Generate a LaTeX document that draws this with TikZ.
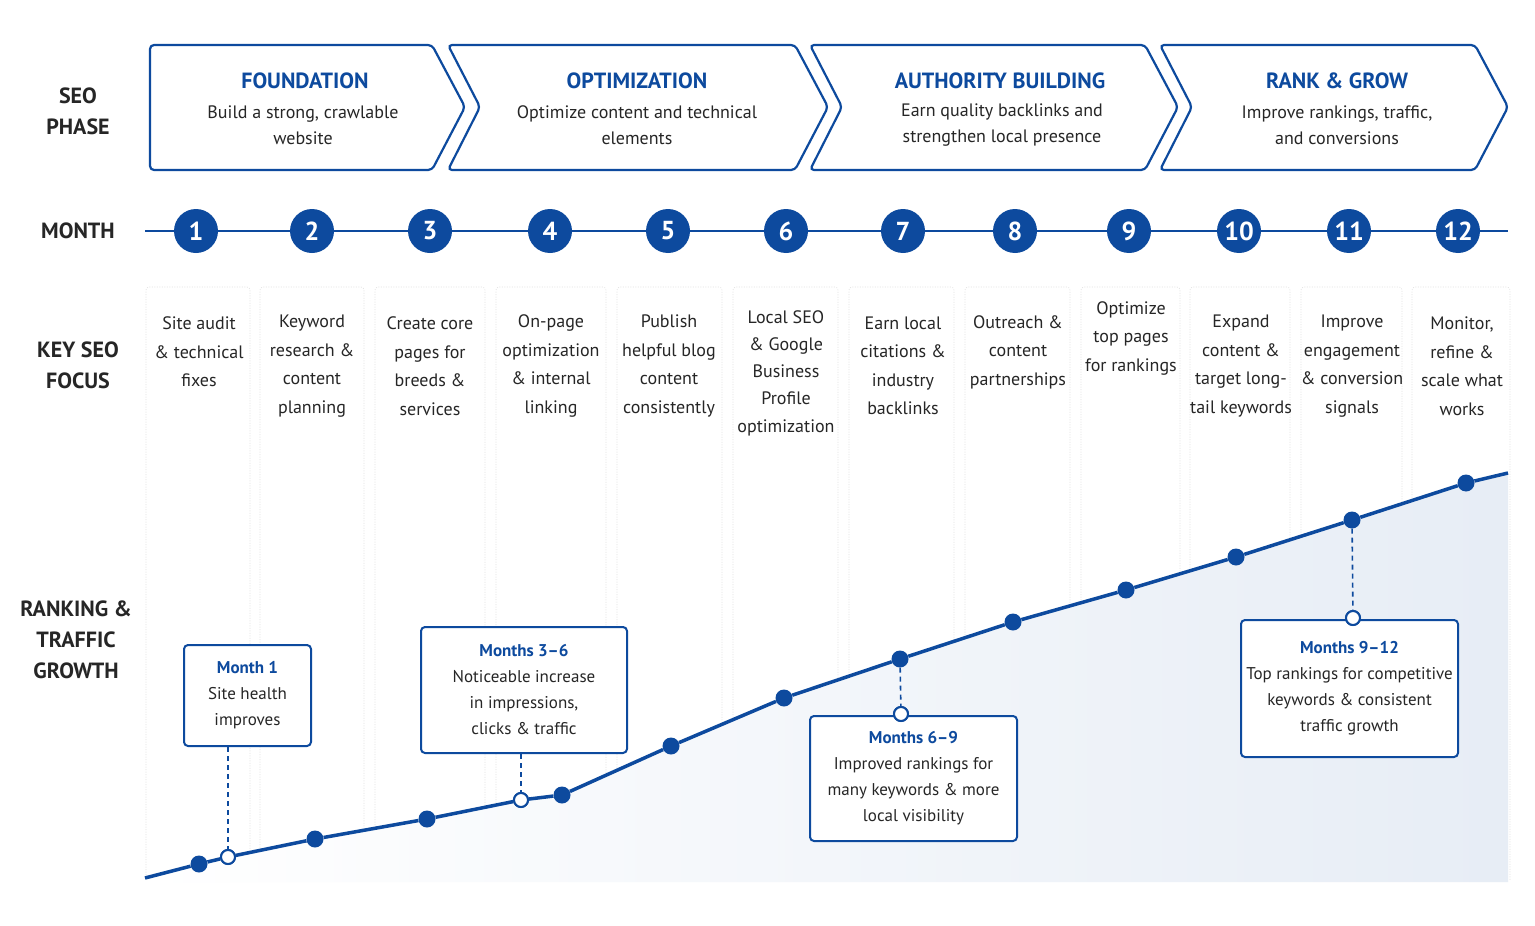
\documentclass[tikz,border=0pt]{standalone}
\usepackage{fontspec}
\setmainfont{PT Sans}
\begin{document}
\begin{tikzpicture}[x=1pt,y=-1pt,
  blu/.style={draw=seo,line width=2.2pt},
  ttl/.style={text=seo,font=\fontsize{22}{26}\selectfont\bfseries},
  body/.style={font=\fontsize{18}{26}\selectfont,align=center,text=black!85},
  fbody/.style={font=\fontsize{18}{28.5}\selectfont,align=center,text=black!85},
  lbl/.style={font=\fontsize{22}{31}\selectfont\bfseries,align=center,text=black!85},
  mon/.style={circle,fill=seo,minimum size=44pt,inner sep=0pt,text=white,font=\fontsize{26}{26}\selectfont\bfseries},
  col/.style={draw=black!12,dash pattern=on 1pt off 1.5pt,line width=0.6pt},
  dot/.style={circle,fill=seo,minimum size=17pt,inner sep=0pt},
  hol/.style={circle,fill=white,draw=seo,line width=2pt,minimum size=14pt,inner sep=0pt},
  callout/.style={draw=seo,line width=2pt,rounded corners=4pt,fill=white,align=center,font=\fontsize{17}{26}\selectfont,text=black!85},
  dsh/.style={draw=seo,line width=1.6pt,dash pattern=on 5pt off 4pt}]
\definecolor{seo}{HTML}{0D4A9E}
\useasboundingbox (0,0) rectangle (1535,926);
\fill[white] (0,0) rectangle (1535,926);
% chevrons
\draw[blu,rounded corners=4pt] (150,45) -- (432,45) -- (465,107) -- (432,170) -- (150,170) -- cycle;
\draw[blu,rounded corners=4pt] (448,45) -- (795,45) -- (828,107) -- (795,170) -- (448,170) -- (480,107) -- cycle;
\draw[blu,rounded corners=4pt] (810,45) -- (1145,45) -- (1178,107) -- (1145,170) -- (810,170) -- (842,107) -- cycle;
\draw[blu,rounded corners=4pt] (1160,45) -- (1475,45) -- (1508,107) -- (1475,170) -- (1160,170) -- (1192,107) -- cycle;
\node[ttl] (p1) at (305,81) {FOUNDATION};
\node[body] (p1b) at (303,125) {Build a strong, crawlable\\website};
\node[ttl] (p2) at (637,81) {OPTIMIZATION};
\node[body] (p2b) at (637,125) {Optimize content and technical\\elements};
\node[ttl] (p3) at (1000,81) {AUTHORITY BUILDING};
\node[body] (p3b) at (1002,125) {Earn quality backlinks and\\strengthen local presence};
\node[ttl] (p4) at (1337,81) {RANK \& GROW};
\node[body] (p4b) at (1337,125) {Improve rankings, traffic,\\and conversions};
% left labels
\node[lbl] (l1) at (78,111) {SEO\\PHASE};
\node[lbl] (l2) at (78,231) {MONTH};
\node[lbl] (l3) at (78,365) {KEY SEO\\FOCUS};
\node[lbl] (l4) at (76,640) {RANKING \&\\TRAFFIC\\GROWTH};
% columns
\foreach \a/\b in {146/250,260/364,375/485,496/606,617/722,733/838,849/954,965/1070,1081/1180,1190/1290,1301/1402,1412/1510}
  \draw[col,rounded corners=3pt] (\a,880) -- (\a,287) -- (\b,287) -- (\b,880);
% shading under curve
\shade[left color=white,right color=seo!10] (145,878) -- (199,864) -- (228,857) -- (315,839) -- (427,819) -- (521,800) -- (562,795) -- (671,746) -- (784,698) -- (900,659) -- (1013,622) -- (1126,590) -- (1236,557) -- (1352,520) -- (1466,483) -- (1508,473) -- (1508,882) -- (145,882) -- cycle;
% month line
\coordinate (ms) at (145,231); \coordinate (me) at (1508,231);
\draw[seo,line width=2pt] (ms) -- (me);
\foreach \n/\x in {1/196,2/312,3/430,4/550,5/668,6/786,7/903,8/1015,9/1129,10/1239,11/1349,12/1458}
  \node[mon] (m\n) at (\x,231) {\n};
% focus texts
\node[fbody] (f1) at (199,352) {Site audit\\\& technical\\fixes};
\node[fbody] (f2) at (312,366) {Keyword\\research \&\\content\\planning};
\node[fbody] (f3) at (430,366) {Create core\\pages for\\breeds \&\\services};
\node[fbody] (f4) at (551,366) {On-page\\optimization\\\& internal\\linking};
\node[fbody] (f5) at (669,366) {Publish\\helpful blog\\content\\consistently};
\node[fbody,font=\fontsize{18}{27.3}\selectfont] (f6) at (786,373) {Local SEO\\\& Google\\Business\\Profile\\optimization};
\node[fbody] (f7) at (903,366) {Earn local\\citations \&\\industry\\backlinks};
\node[fbody] (f8) at (1018,352) {Outreach \&\\content\\partnerships};
\node[fbody] (f9) at (1131,338) {Optimize\\top pages\\for rankings};
\node[fbody] (f10) at (1241,366) {Expand\\content \&\\target long-\\tail keywords};
\node[fbody] (f11) at (1352,366) {Improve\\engagement\\\& conversion\\signals};
\node[fbody] (f12) at (1462,366) {Monitor,\\refine \&\\scale what\\works};
% growth curve
\coordinate (g0) at (145,878); \coordinate (gE) at (1508,473);
\node[dot] (d1) at (199,864) {}; \node[hol] (h1) at (228,857) {};
\node[dot] (d2) at (315,839) {}; \node[dot] (d3) at (427,819) {};
\node[hol] (h2) at (521,800) {}; \node[dot] (d4) at (562,795) {};
\node[dot] (d5) at (671,746) {}; \node[dot] (d6) at (784,698) {};
\node[dot] (d7) at (900,659) {}; \node[dot] (d8) at (1013,622) {};
\node[dot] (d9) at (1126,590) {}; \node[dot] (d10) at (1236,557) {};
\node[dot] (d11) at (1352,520) {}; \node[dot] (d12) at (1466,483) {};
\draw[seo,line width=3.5pt,line join=round] (g0) -- (d1) -- (h1) -- (d2) -- (d3) -- (h2) -- (d4) -- (d5) -- (d6) -- (d7) -- (d8) -- (d9) -- (d10) -- (d11) -- (d12) -- (gE);
% callouts
\node[callout,minimum width=127pt,minimum height=101pt] (c1) at (247.5,695.5) {\textcolor{seo}{\textbf{Month 1}}\\Site health\\improves};
\node[callout,minimum width=206pt,minimum height=126pt] (c2) at (524,690) {\textcolor{seo}{\textbf{Months 3–6}}\\Noticeable increase\\in impressions,\\clicks \& traffic};
\node[callout,minimum width=207pt,minimum height=125pt] (c3) at (913.5,778.5) {\textcolor{seo}{\textbf{Months 6–9}}\\Improved rankings for\\many keywords \& more\\local visibility};
\node[callout,minimum width=217pt,minimum height=137pt] (c4) at (1349.5,688.5) {\textcolor{seo}{\textbf{Months 9–12}}\\Top rankings for competitive\\keywords \& consistent\\traffic growth};
\node[hol] (h3) at (901,714) {};
\node[hol] (h4) at (1353,618) {};
\draw[dsh] (c1.south -| h1) -- (h1);
\draw[dsh] (c2.south -| h2) -- (h2);
\draw[dsh] (d7) -- (h3);
\draw[dsh] (d11) -- (h4);
\node[hol] at (h3) {}; \node[hol] at (h4) {}; \node[hol] at (h1) {}; \node[hol] at (h2) {};
\end{tikzpicture}
\end{document}
